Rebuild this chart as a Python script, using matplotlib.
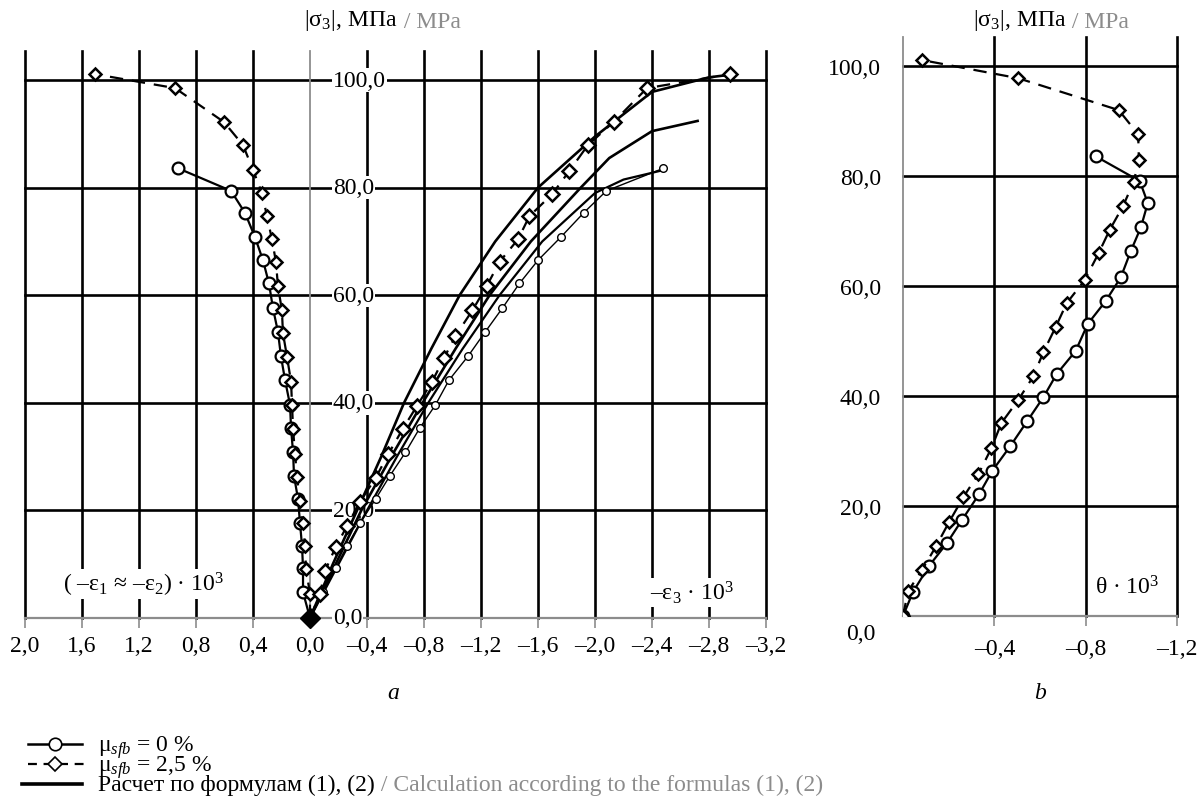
import matplotlib
matplotlib.use('Agg')
import matplotlib.pyplot as plt

plt.rcParams['font.family'] = ['Liberation Serif', 'DejaVu Serif']
plt.rcParams['font.size'] = 17
plt.rcParams['mathtext.fontset'] = 'custom'
plt.rcParams['mathtext.rm'] = 'Liberation Serif'
plt.rcParams['mathtext.it'] = 'Liberation Serif:italic'
plt.rcParams['mathtext.default'] = 'regular'

# --- panel a: lateral strains (-e1 ~ -e2), left half ---
lat_s0 = [0, 4.8, 9.3, 13.4, 17.6, 22.1, 26.4, 30.8, 35.3, 39.6, 44.2, 48.7,
          53.2, 57.6, 62.2, 66.5, 70.8, 75.3, 79.4, 83.6]
lat_e0 = [0, 0.049, 0.049, 0.056, 0.07, 0.084, 0.112, 0.119, 0.133, 0.14, 0.175, 0.204,
          0.225, 0.26, 0.288, 0.33, 0.386, 0.456, 0.554, 0.926]
lat_s25 = [0, 4.5, 9.1, 13.4, 17.6, 21.7, 26.2, 30.5, 35.1, 39.6, 43.9, 48.5,
           53.0, 57.2, 61.7, 66.2, 70.4, 74.7, 79.0, 83.3, 87.9, 92.2, 98.5, 101.1]
lat_e25 = [0, 0.0, 0.028, 0.035, 0.049, 0.07, 0.091, 0.105, 0.119, 0.126, 0.133, 0.161,
           0.19, 0.197, 0.225, 0.239, 0.267, 0.302, 0.337, 0.40, 0.47, 0.604, 0.947, 1.51]

# --- panel a: axial strain -e3, right half ---
ax_s0 = lat_s0
ax_e0 = [0, -0.09, -0.18, -0.26, -0.35, -0.46, -0.56, -0.67, -0.77, -0.88, -0.975, -1.11,
         -1.23, -1.35, -1.47, -1.60, -1.76, -1.92, -2.08, -2.48]
ax_s25 = [0, 4.5, 8.7, 13.2, 17.1, 21.6, 26.0, 30.5, 35.1, 39.4, 43.9, 48.3,
          52.4, 57.2, 61.7, 66.2, 70.4, 74.7, 78.8, 83.1, 87.9, 92.2, 98.5, 101.1]
ax_e25 = [0, -0.07, -0.105, -0.18, -0.26, -0.35, -0.46, -0.55, -0.65, -0.75, -0.856, -0.94,
          -1.02, -1.14, -1.24, -1.33, -1.46, -1.54, -1.70, -1.82, -1.95, -2.13, -2.365, -2.95]

# calculated curves, formulas (1), (2)
calc1_e = [0, -0.16, -0.33, -0.50, -0.66, -0.85, -1.05, -1.30, -1.60, -2.0, -2.4, -2.8, -2.95]
calc1_s = [0, 10, 20, 30, 40, 50, 60, 70, 80, 89.5, 97.8, 100.5, 101]
calc2_e = [0, -0.18, -0.36, -0.57, -0.79, -1.02, -1.26, -1.55, -1.90, -2.1, -2.4, -2.72]
calc2_s = [0, 10, 20, 30, 40, 50, 60, 70, 80, 85.5, 90.5, 92.4]
calc3_e = [0, -0.20, -0.40, -0.61, -0.83, -1.07, -1.33, -1.63, -2.0, -2.2, -2.47]
calc3_s = [0, 10, 20, 30, 40, 50, 60, 70, 79, 81.5, 83.2]

# --- panel b: volumetric strain theta ---
vol_s0 = [0, 4.4, 9.1, 13.3, 17.5, 22.2, 26.4, 30.9, 35.5, 39.8, 44.0, 48.2,
          53.1, 57.3, 61.6, 66.4, 70.7, 75.1, 79.1, 83.6]
vol_e0 = [0, -0.044, -0.114, -0.193, -0.259, -0.334, -0.391, -0.47, -0.545, -0.615, -0.673, -0.756,
          -0.809, -0.888, -0.954, -0.998, -1.042, -1.072, -1.037, -0.844]
vol_s25 = [0, 4.5, 8.4, 12.7, 17.1, 21.6, 25.8, 30.5, 35.1, 39.3, 43.6, 48.0,
           52.5, 56.9, 61.1, 66.0, 70.2, 74.5, 78.9, 82.9, 87.6, 92.0, 97.8, 101.1]
vol_e25 = [0, -0.022, -0.084, -0.145, -0.202, -0.264, -0.33, -0.387, -0.431, -0.505, -0.571, -0.615,
           -0.668, -0.717, -0.796, -0.857, -0.905, -0.963, -1.01, -1.033, -1.03, -0.945, -0.505, -0.084]

xticks_a = [2.0, 1.6, 1.2, 0.8, 0.4, 0.0, -0.4, -0.8, -1.2, -1.6, -2.0, -2.4, -2.8, -3.2]
xticks_b = [-0.4, -0.8, -1.2]
yticks = [20, 40, 60, 80, 100]

legend_rows = ['μ$_{\\mathit{sfb}}$ = 0 %', 'μ$_{\\mathit{sfb}}$ = 2,5 %',
               'Расчет по формулам (1), (2)']

GRAY = '#8c8c8c'
W, H = 1198, 812
fig = plt.figure(figsize=(W / 100, H / 100), dpi=100)


def px_axes(left, right, bottom, top):
    return fig.add_axes([left / W, 1 - bottom / H, (right - left) / W, (bottom - top) / H])


def fmt(v):
    s = ('%.1f' % abs(v)).replace('.', ',')
    return ('–' + s) if v < 0 else s


def white_box():
    return dict(boxstyle='square,pad=0.05', fc='white', ec='none')


def frame(ax, xt):
    for sp in ax.spines.values():
        sp.set_visible(False)
    for x in xt:
        if x == 0:
            continue
        ax.axvline(x, color='k', lw=1.9, zorder=1, clip_on=False)
    for y in yticks:
        ax.axhline(y, color='k', lw=1.9, zorder=1, clip_on=False)
    ax.axvline(0, color=GRAY, lw=1.3, zorder=1.5, clip_on=False)
    ax.axhline(0, color=GRAY, lw=1.6, zorder=1.5, clip_on=False)


dash = (0, (6, 4))
mk0 = dict(marker='o', mfc='white', mec='k')
mk25 = dict(marker='D', mfc='white', mec='k')

# ================= panel a =================
ax1 = px_axes(25, 766, 619, 52)
ax1.set_xlim(2.0, -3.2)
ax1.set_ylim(0, 105.4)
frame(ax1, xticks_a)
ax1.set_xticks(xticks_a)
ax1.set_xticklabels([fmt(v) for v in xticks_a])
ax1.set_yticks([])
ax1.tick_params(axis='x', direction='out', length=7, width=1.2, color=GRAY, pad=5)

for v in [0] + yticks:
    ax1.text(-0.16, v, fmt(v), ha='left', va='center', zorder=2, bbox=white_box())

ax1.text(1.733, 6.3, '( –$ε_1$ ≈ –$ε_2$) · 10$^3$', ha='left', va='center',
         zorder=2, bbox=white_box())
ax1.text(-2.385, 4.8, '–$ε_3$ · 10$^3$', ha='left', va='center', zorder=2,
         bbox=white_box())

ax1.plot(lat_e0, lat_s0, color='k', lw=1.6, ms=8.5, mew=1.6, zorder=4, **mk0)
ax1.plot(lat_e25, lat_s25, color='k', lw=1.6, ls=dash, ms=6.5, mew=1.8, zorder=5, **mk25)
ax1.plot(calc1_e, calc1_s, color='k', lw=1.9, zorder=3)
ax1.plot(calc2_e, calc2_s, color='k', lw=1.9, zorder=3)
ax1.plot(calc3_e, calc3_s, color='k', lw=1.6, zorder=3)
ax1.plot(ax_e0, ax_s0, color='k', lw=1.0, ms=5.5, mew=1.0, zorder=4, **mk0)
ax1.plot(ax_e25, ax_s25, color='k', lw=1.6, ls=dash, ms=7.5, mew=1.8, zorder=5, **mk25)
ax1.plot([0], [0], marker='D', color='k', ms=10, zorder=6, clip_on=False)

t = ax1.text(0.377, 1.055, '|$σ_3$|, МПа', transform=ax1.transAxes, ha='left', va='center')
ax1.annotate(' / MPa', xy=(1, 0), xycoords=t, ha='left', va='bottom', color=GRAY)

# ================= panel b =================
ax2 = px_axes(903, 1177, 617, 38)
ax2.set_xlim(0, -1.2)
ax2.set_ylim(0, 105.3)
frame(ax2, xticks_b)
ax2.set_xticks(xticks_b)
ax2.set_xticklabels([fmt(v) for v in xticks_b])
ax2.set_yticks(yticks)
ax2.set_yticklabels([fmt(v) for v in yticks])
ax2.tick_params(axis='x', direction='out', length=7, width=1.2, color=GRAY, pad=9)
ax2.tick_params(axis='y', length=0, pad=16)
ax2.text(-0.1, -0.03, '0,0', transform=ax2.transAxes, ha='right', va='center')
ax2.text(-0.84, 5.3, 'θ · 10$^3$', ha='left', va='center', zorder=2, bbox=white_box())

ax2.plot(vol_e0, vol_s0, color='k', lw=1.6, ms=8.5, mew=1.6, zorder=4, **mk0)
ax2.plot(vol_e25, vol_s25, color='k', lw=1.6, ls=dash, ms=6.5, mew=1.8, zorder=5, **mk25)

t2 = ax2.text(0.255, 1.03, '|$σ_3$|, МПа', transform=ax2.transAxes, ha='left', va='center')
ax2.annotate(' / MPa', xy=(1, 0), xycoords=t2, ha='left', va='bottom', color=GRAY)

# ================= captions and legend =================
ov = fig.add_axes([0, 0, 1, 1])
ov.set_xlim(0, W)
ov.set_ylim(H, 0)
ov.axis('off')
ov.text(393, 694, 'a', style='italic', ha='center', va='center')
ov.text(1040, 694, 'b', style='italic', ha='center', va='center')

ov.plot([28, 82], [745, 745], color='k', lw=1.8)
ov.plot([55], [745], ms=9, mew=1.2, **mk0)
ov.plot([28, 84], [765, 765], color='k', lw=1.6, ls=(0, (4, 3)))
ov.plot([55], [765], ms=7, mew=1.2, **mk25)
ov.plot([22, 82], [785, 785], color='k', lw=2.6)
# the three legend rows are one block so their tight spacing stays clean
t3 = ov.text(98, 765, '\n'.join(legend_rows), ha='left', va='center', linespacing=0.62)
ov.annotate(' / Calculation according to the formulas (1), (2)', xy=(1, 0), xycoords=t3,
            ha='left', va='bottom', color=GRAY)

fig.savefig('out.png', dpi=100)
